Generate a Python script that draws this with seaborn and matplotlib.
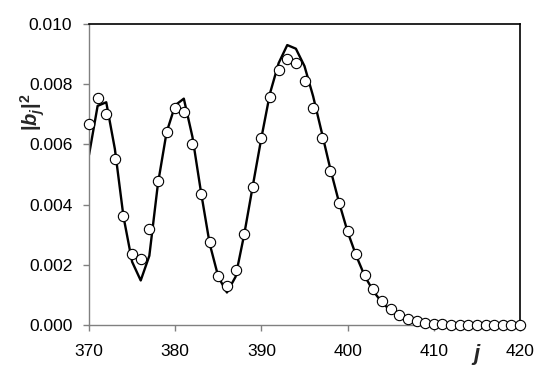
import numpy as np
import matplotlib.pyplot as plt
import seaborn as sns

# Measured points (circles), j = 370..420
j_pts = list(range(370, 421))
b_pts = [0.00668, 0.00754, 0.00700, 0.00550, 0.00362, 0.00236, 0.00220, 0.00320, 0.00480, 0.00640,
         0.00722, 0.00708, 0.00600, 0.00436, 0.00276, 0.00163, 0.00128, 0.00182, 0.00302, 0.00460,
         0.00620, 0.00757, 0.00848, 0.00885, 0.00870, 0.00810, 0.00722, 0.00620, 0.00512, 0.00406,
         0.00312, 0.00235, 0.00165, 0.00118, 0.00080, 0.00052, 0.00032, 0.00020, 0.00012, 0.00007,
         0.00004, 0.00002, 0.00001, 0.00001, 0.0, 0.0, 0.0, 0.0, 0.0, 0.0, 0.0]

# Model curve (line)
j_line = list(range(370, 411))
b_line = [0.00565, 0.00728, 0.00740, 0.00585, 0.00360, 0.00210, 0.00148, 0.00230, 0.00470, 0.00640,
          0.00730, 0.00752, 0.00625, 0.00440, 0.00270, 0.00160, 0.00108, 0.00160, 0.00300, 0.00462,
          0.00622, 0.00770, 0.00870, 0.00930, 0.00918, 0.00860, 0.00760, 0.00640, 0.00518, 0.00408,
          0.00310, 0.00230, 0.00162, 0.00112, 0.00074, 0.00048, 0.00030, 0.00018, 0.00010, 0.00006,
          0.00003]

sns.set_style('white')
plt.rcParams['font.family'] = ['Liberation Sans', 'DejaVu Sans']
plt.rcParams['mathtext.fontset'] = 'custom'
plt.rcParams['mathtext.rm'] = 'Liberation Sans:bold'
plt.rcParams['mathtext.it'] = 'Liberation Sans:bold:italic'
plt.rcParams['mathtext.bf'] = 'Liberation Sans:bold'

fig = plt.figure(figsize=(5.45, 3.69), dpi=100)
ax = fig.add_axes([89 / 545, 1 - 325 / 369, (520 - 89) / 545, (325 - 24) / 369])

sns.lineplot(x=j_line, y=b_line, ax=ax, color='black', linewidth=1.7, zorder=2)
sns.scatterplot(x=j_pts, y=b_pts, ax=ax, marker='o', s=55, facecolor='white',
                edgecolor='black', linewidth=0.8, zorder=3, clip_on=False)

ax.set_xlim(370, 420)
ax.set_ylim(0, 0.010)
ax.set_xticks([370, 380, 390, 400, 410, 420])
ax.set_yticks([0.0, 0.002, 0.004, 0.006, 0.008, 0.010])
ax.set_yticklabels(['0.000', '0.002', '0.004', '0.006', '0.008', '0.010'])

for side in ['left', 'bottom']:
    ax.spines[side].set_color('#808080')
    ax.spines[side].set_linewidth(1.0)
for side in ['top', 'right']:
    ax.spines[side].set_color('black')
    ax.spines[side].set_linewidth(1.2)

ax.tick_params(axis='both', which='major', bottom=True, left=True, direction='out',
               length=4, width=1, color='#808080', labelsize=12.5, labelcolor='black')
ax.tick_params(axis='x', pad=10)
ax.tick_params(axis='y', pad=8)

ax.set_xlabel('$j$', fontsize=16)
ax.xaxis.set_label_coords(0.90, -0.055)
ax.set_ylabel('$|b_j|^2$', fontsize=14.5)
ax.yaxis.set_label_coords(-0.097, 0.708)

fig.savefig('out.png', dpi=100)
